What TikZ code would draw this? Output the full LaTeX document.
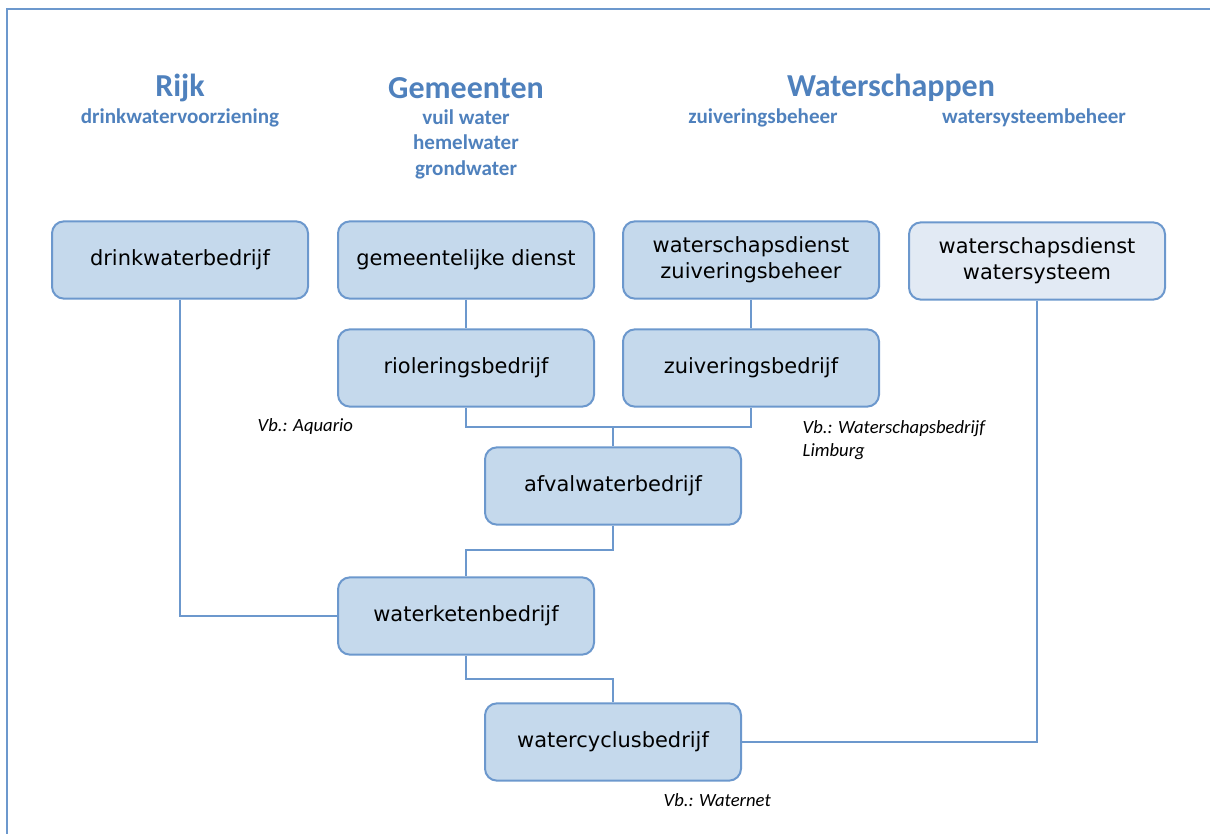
\documentclass[tikz,border=0pt]{standalone}
\usepackage{fontspec}
\setmainfont{DejaVu Sans}
\newfontfamily\headfont{Carlito}
\usetikzlibrary{calc}

\definecolor{boxfill}{RGB}{197,217,236}
\definecolor{boxlight}{RGB}{226,234,244}
\definecolor{boxline}{RGB}{108,152,205}
\definecolor{headblue}{RGB}{79,129,189}

\begin{document}
\begin{tikzpicture}[x=0.75pt,y=-0.75pt,
        orgbox/.style={draw=boxline, fill=boxfill, line width=1.5pt, rounded corners=9pt,
            minimum width=192pt, minimum height=58pt, align=center,
            font=\fontsize{15.7}{19.5}\selectfont, inner sep=2pt},
        lightbox/.style={orgbox, fill=boxlight},
        link/.style={draw=boxline, line width=1.1pt},
        head/.style={text=headblue, font=\headfont\bfseries\fontsize{24}{28}\selectfont},
        subhead/.style={text=headblue, align=center, font=\headfont\bfseries\fontsize{15.8}{19.2}\selectfont},
        note/.style={anchor=west, align=left, font=\headfont\itshape\fontsize{14}{17.3}\selectfont}]
        \useasboundingbox (0,0) rectangle (1210,834);
        \draw[boxline, line width=1.5pt] (7,840)--(7,9)--(1220,9);

        \node[head] (rijk) at (180,88) {Rijk};
        \node[subhead] (rijksub) at (180,118) {drinkwatervoorziening};
        \node[head] (gem) at (466,88) {Gemeenten};
        \node[subhead] (gemsub) at (466,144) {vuil water\\hemelwater\\grondwater};
        \node[head] (ws) at (891,88) {Waterschappen};
        \node[subhead] (wssubA) at (763,118) {zuiveringsbeheer};
        \node[subhead] (wssubB) at (1034,118) {watersysteembeheer};

        \node[orgbox] (drink) at (180,260) {drinkwaterbedrijf};
        \node[orgbox] (gemdienst) at (466,260) {gemeentelijke dienst};
        \node[orgbox] (wsdienst) at (751,260) {waterschapsdienst\\zuiveringsbeheer};
        \node[lightbox] (wssys) at (1037,261) {waterschapsdienst\\watersysteem};
        \node[orgbox] (riool) at (466,368) {rioleringsbedrijf};
        \node[orgbox] (zuiv) at (751,368) {zuiveringsbedrijf};
        \node[orgbox] (afval) at (613,486) {afvalwaterbedrijf};
        \node[orgbox] (keten) at (466,616) {waterketenbedrijf};
        \node[orgbox] (cyclus) at (613,742) {watercyclusbedrijf};

        \node[note] (vbA) at (253,427) {Vb.: Aquario};
        \node[note] (vbB) at (798,440) {Vb.: Waterschapsbedrijf\\Limburg};
        \node[note] (vbC) at (659,800) {Vb.: Waternet};

        \coordinate (splitA) at (613,427);
        \coordinate (splitB) at (613,550);
        \coordinate (splitC) at (613,679);

        \draw[link] (gemdienst)--(riool);
        \draw[link] (wsdienst)--(zuiv);
        \draw[link] (riool.south) |- (splitA) -| (zuiv.south);
        \draw[link] (splitA)--(afval.north);
        \draw[link] (afval.south)--(splitB) -| (keten.north);
        \draw[link] (drink.south) |- (keten.west);
        \draw[link] (keten.south) |- (splitC)--(cyclus.north);
        \draw[link] (wssys.south) |- (cyclus.east);
    \end{tikzpicture}
\end{document}
